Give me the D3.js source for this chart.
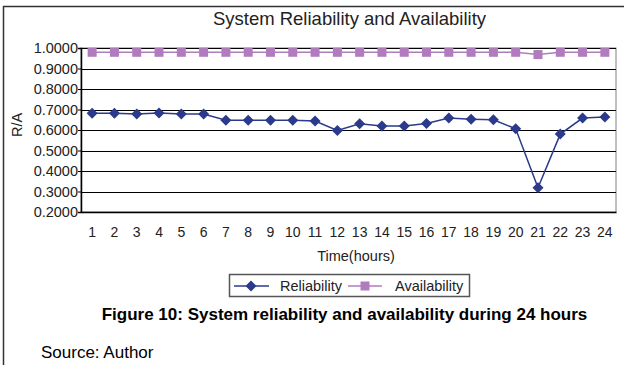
<!DOCTYPE html>
<html>
<head>
<meta charset="utf-8">
<script src="https://cdn.jsdelivr.net/npm/d3@7/dist/d3.min.js"></script>
<style>
  html, body { margin: 0; padding: 0; background: #fff; }
  svg { display: block; font-family: "Liberation Sans", Arial, sans-serif; }
</style>
</head>
<body>
<svg id="chart" width="624" height="365"></svg>
<script>
// Hours of the day
const hours = d3.range(1, 25).map(String);
// System reliability per hour
const reliability = [0.682, 0.682, 0.678, 0.683, 0.678, 0.678, 0.648, 0.648, 0.648, 0.648,
                     0.644, 0.598, 0.630, 0.619, 0.619, 0.632, 0.658, 0.653, 0.650, 0.606,
                     0.318, 0.580, 0.658, 0.663];
// System availability per hour
const availability = [0.979, 0.979, 0.979, 0.979, 0.979, 0.979, 0.979, 0.979, 0.979, 0.979,
                      0.979, 0.979, 0.979, 0.979, 0.979, 0.979, 0.979, 0.979, 0.979, 0.979,
                      0.968, 0.979, 0.979, 0.979];
const yTicks = [0.2, 0.3, 0.4, 0.5, 0.6, 0.7, 0.8, 0.9, 1.0];

const relColor = "#2B3A8A";
const avColor = "#B07CBE";
const font = "'Liberation Sans', Arial, sans-serif";

const svg = d3.select("#chart");

// frame around the chart object
svg.append("path")
  .attr("d", "M3.5,365 V6.5 H624")
  .attr("fill", "none").attr("stroke", "#333").attr("stroke-width", 1.5);

const plot = { left: 81, right: 616, top: 48, bottom: 212 };

const x = d3.scaleBand().domain(hours).range([plot.left, plot.right]);
const y = d3.scaleLinear().domain([0.2, 1.0]).range([plot.bottom, plot.top]);

// plot area border
svg.append("rect")
  .attr("x", plot.left).attr("y", plot.top)
  .attr("width", plot.right - plot.left).attr("height", plot.bottom - plot.top)
  .attr("fill", "#fff").attr("stroke", "#808080").attr("stroke-width", 1);

// horizontal gridlines
svg.append("g").selectAll("line")
  .data(yTicks.filter(t => t > 0.2))
  .join("line")
  .attr("x1", plot.left).attr("x2", plot.right)
  .attr("y1", d => Math.round(y(d)) + 0.5).attr("y2", d => Math.round(y(d)) + 0.5)
  .attr("stroke", "#000").attr("stroke-width", 1);

// y axis
const yAxis = svg.append("g")
  .attr("transform", `translate(${plot.left},0)`)
  .call(d3.axisLeft(y).tickValues(yTicks).tickFormat(d3.format(".4f")).tickSize(3).tickPadding(0));
yAxis.select(".domain").attr("stroke", "#000").attr("stroke-width", 1.5);
yAxis.selectAll(".tick line").attr("stroke", "#000");
yAxis.selectAll("text").attr("font-size", 14.5).attr("fill", "#222").attr("font-family", font);

// x axis
const xAxis = svg.append("g")
  .attr("transform", `translate(0,${plot.bottom})`)
  .call(d3.axisBottom(x).tickSize(0).tickPadding(15));
xAxis.select(".domain").attr("stroke", "#000").attr("stroke-width", 1.5);
xAxis.selectAll("text").attr("font-size", 14).attr("fill", "#222").attr("font-family", font);

const cx = d => x(d) + x.bandwidth() / 2;

// availability series
svg.append("path")
  .datum(availability)
  .attr("fill", "none").attr("stroke", avColor).attr("stroke-width", 1.5)
  .attr("d", d3.line().x((d, i) => cx(hours[i])).y(d => y(d)));
svg.append("g").selectAll("rect")
  .data(availability)
  .join("rect")
  .attr("x", (d, i) => cx(hours[i]) - 4.5).attr("y", d => y(d) - 4.5)
  .attr("width", 9).attr("height", 9)
  .attr("fill", avColor);

// reliability series
svg.append("path")
  .datum(reliability)
  .attr("fill", "none").attr("stroke", relColor).attr("stroke-width", 1.5)
  .attr("d", d3.line().x((d, i) => cx(hours[i])).y(d => y(d)));
const diamond = "M0,-5.5 L5.5,0 L0,5.5 L-5.5,0 Z";
svg.append("g").selectAll("path")
  .data(reliability)
  .join("path")
  .attr("transform", (d, i) => `translate(${cx(hours[i])},${y(d)})`)
  .attr("d", diamond)
  .attr("fill", relColor);

// chart title
svg.append("text")
  .attr("x", 349.5).attr("y", 25)
  .attr("text-anchor", "middle").attr("font-size", 18.5).attr("fill", "#222")
  .text("System Reliability and Availability");

// axis titles
svg.append("text")
  .attr("transform", "translate(22,125) rotate(-90)")
  .attr("text-anchor", "middle").attr("font-size", 14.5).attr("fill", "#222")
  .text("R/A");
svg.append("text")
  .attr("x", 356).attr("y", 261)
  .attr("text-anchor", "middle").attr("font-size", 14.5).attr("fill", "#222")
  .text("Time(hours)");

// legend
const legend = svg.append("g");
legend.append("rect")
  .attr("x", 229.5).attr("y", 274.5).attr("width", 240).attr("height", 22)
  .attr("fill", "#fff").attr("stroke", "#555").attr("stroke-width", 1.5);
legend.append("line").attr("x1", 234).attr("x2", 269).attr("y1", 286).attr("y2", 286)
  .attr("stroke", relColor).attr("stroke-width", 1.5);
legend.append("path").attr("transform", "translate(251,286)").attr("d", diamond).attr("fill", relColor);
legend.append("text").attr("x", 280).attr("y", 291).attr("font-size", 14.5).attr("fill", "#222").text("Reliability");
legend.append("line").attr("x1", 348).attr("x2", 382).attr("y1", 286).attr("y2", 286)
  .attr("stroke", avColor).attr("stroke-width", 1.5);
legend.append("rect").attr("x", 360.5).attr("y", 281.5).attr("width", 9).attr("height", 9).attr("fill", avColor);
legend.append("text").attr("x", 395).attr("y", 291).attr("font-size", 14.5).attr("fill", "#222").text("Availability");

// figure caption and source
svg.append("text")
  .attr("x", 344.5).attr("y", 320)
  .attr("text-anchor", "middle").attr("font-size", 17).attr("font-weight", "bold").attr("fill", "#000")
  .text("Figure 10: System reliability and availability during 24 hours");
svg.append("text")
  .attr("x", 41).attr("y", 358)
  .attr("font-size", 17).attr("fill", "#000")
  .text("Source: Author");
</script>
</body>
</html>
